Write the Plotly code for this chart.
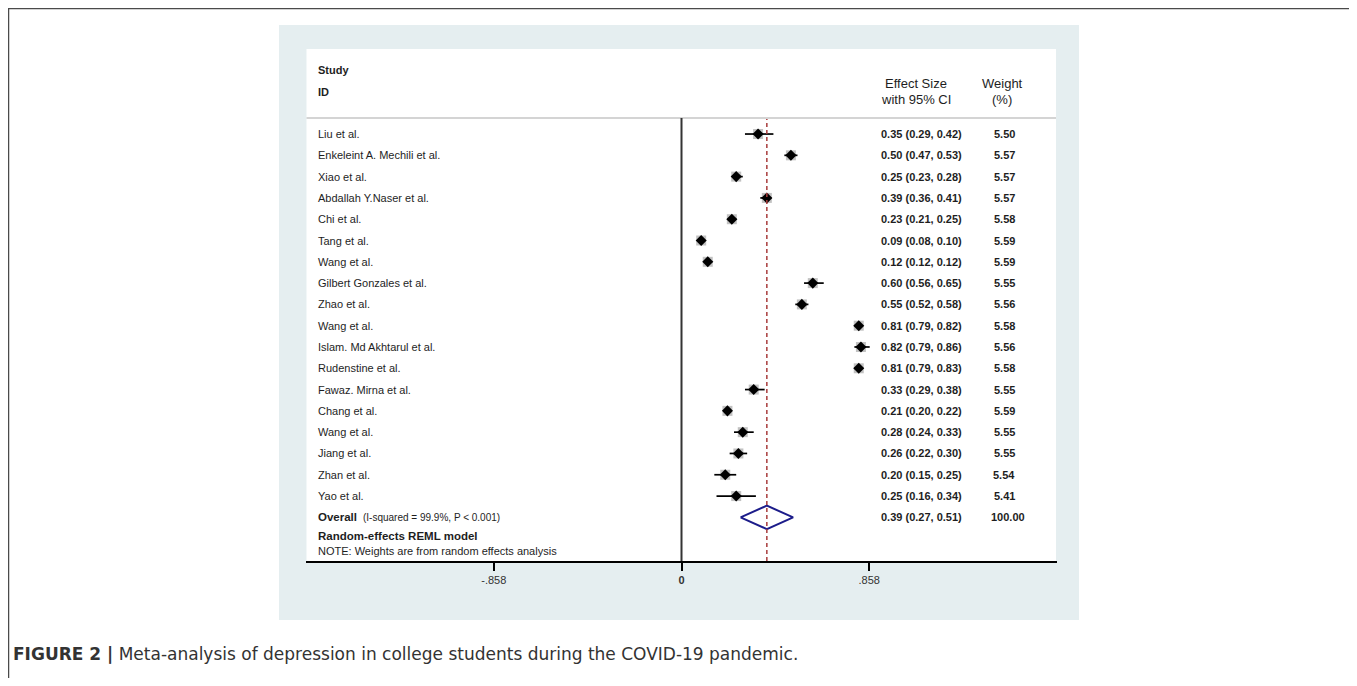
import plotly.graph_objects as go

# ---------------- data ----------------
studies = [
    "Liu et al.", "Enkeleint A. Mechili et al.", "Xiao et al.", "Abdallah Y.Naser et al.",
    "Chi et al.", "Tang et al.", "Wang et al.", "Gilbert Gonzales et al.", "Zhao et al.",
    "Wang et al.", "Islam. Md Akhtarul et al.", "Rudenstine et al.", "Fawaz. Mirna et al.",
    "Chang et al.", "Wang et al.", "Jiang et al.", "Zhan et al.", "Yao et al.",
]
est = [0.35, 0.50, 0.25, 0.39, 0.23, 0.09, 0.12, 0.60, 0.55, 0.81, 0.82, 0.81, 0.33, 0.21, 0.28, 0.26, 0.20, 0.25]
lo = [0.29, 0.47, 0.23, 0.36, 0.21, 0.08, 0.12, 0.56, 0.52, 0.79, 0.79, 0.79, 0.29, 0.20, 0.24, 0.22, 0.15, 0.16]
hi = [0.42, 0.53, 0.28, 0.41, 0.25, 0.10, 0.12, 0.65, 0.58, 0.82, 0.86, 0.83, 0.38, 0.22, 0.33, 0.30, 0.25, 0.34]
weight = [5.50, 5.57, 5.57, 5.57, 5.58, 5.59, 5.59, 5.55, 5.56, 5.58, 5.56, 5.58, 5.55, 5.59, 5.55, 5.55, 5.54, 5.41]
overall_est, overall_lo, overall_hi, overall_w = 0.39, 0.27, 0.51, 100.00
het_text = "(I-squared = 99.9%, P &lt; 0.001)"
tick_vals = [-0.858, 0, 0.858]
tick_text = ["-.858", "<b>0</b>", ".858"]
caption = "<b>FIGURE 2 |</b> Meta-analysis of depression in college students during the COVID-19 pandemic."

# ---------------- helpers ----------------
OFF = 8  # page body margin
W, H = 1357 - OFF, 686 - 2 * OFF
def px(x):
    return (x - OFF) / W
def py(y):
    return 1 - (y - OFF) / H

FONT = "Liberation Sans, Arial, sans-serif"
TXT = "#1e1e1e"

fig = go.Figure()
n = len(studies)
rows = list(range(n))

# weight boxes
fig.add_trace(go.Scatter(x=est, y=rows, mode="markers",
                         marker=dict(symbol="square", size=10, color="#c2c2c2", line=dict(width=0)),
                         hoverinfo="skip", showlegend=False))
# CI lines
xs, ys = [], []
for i in range(n):
    xs += [lo[i], hi[i], None]
    ys += [i, i, None]
fig.add_trace(go.Scatter(x=xs, y=ys, mode="lines", line=dict(color="black", width=1.7),
                         hoverinfo="skip", showlegend=False))
# point estimates
fig.add_trace(go.Scatter(x=est, y=rows, mode="markers",
                         marker=dict(symbol="diamond", size=8.5, color="black", line=dict(width=0)),
                         hoverinfo="skip", showlegend=False))
# overall diamond
ov = n
dh = 0.55
fig.add_trace(go.Scatter(x=[overall_lo, overall_est, overall_hi, overall_est, overall_lo],
                         y=[ov, ov - dh, ov, ov + dh, ov], mode="lines",
                         line=dict(color="#1c1c8a", width=2), hoverinfo="skip", showlegend=False))

shapes = [
    # outer frame
    dict(type="rect", xref="paper", yref="paper", x0=px(8.5), x1=px(1355.5), y0=py(8.5), y1=py(720),
         line=dict(color="#4a4a4a", width=1.5), fillcolor="rgba(0,0,0,0)", layer="above"),
    # blue panel
    dict(type="rect", xref="paper", yref="paper", x0=px(279), x1=px(1079), y0=py(25), y1=py(620),
         line=dict(width=0), fillcolor="#e5eef0", layer="below"),
    # white panel
    dict(type="rect", xref="paper", yref="paper", x0=px(306.5), x1=px(1056), y0=py(49), y1=py(561),
         line=dict(width=0), fillcolor="white", layer="below"),
    # header separator
    dict(type="line", xref="paper", yref="paper", x0=px(306.5), x1=px(1056), y0=py(118), y1=py(118),
         line=dict(color="#c6c6c6", width=1.5)),
    # null line
    dict(type="line", xref="x", yref="paper", x0=0, x1=0, y0=py(561), y1=py(118),
         line=dict(color="#333333", width=2)),
    # overall effect line
    dict(type="line", xref="x", yref="paper", x0=overall_est, x1=overall_est, y0=py(561), y1=py(119),
         line=dict(color="#a83c3c", width=1.5, dash="4px,3px")),
]

ann = []
def add(text, x, y, size=11, anchor="left", bold=False, yref="paper", color=TXT):
    ann.append(dict(text=("<b>%s</b>" % text) if bold else text, x=x, y=y, xref="paper", yref=yref,
                    xanchor=anchor, yanchor="middle", showarrow=False,
                    font=dict(family=FONT, size=size, color=color)))

# headers
add("Study", px(316), py(69.5), size=11, bold=True)
add("ID", px(316), py(92), size=11, bold=True)
add("Effect Size", px(916), py(83), size=13, anchor="center")
add("with 95% CI", px(916), py(100), size=13, anchor="center")
add("Weight", px(1002), py(83), size=13, anchor="center")
add("(%)", px(1002), py(100), size=13, anchor="center")

for i in range(n):
    add(studies[i], px(316), i, size=11, yref="y")
    add("%.2f (%.2f, %.2f)" % (est[i], lo[i], hi[i]), px(879), i, size=11, bold=True, yref="y")
    add("%.2f" % weight[i], px(1004), i, size=11, bold=True, anchor="center", yref="y")

add("Overall", px(316), ov, size=11.5, bold=True, yref="y")
add(het_text, px(361), ov, size=10, yref="y")
add("%.2f (%.2f, %.2f)" % (overall_est, overall_lo, overall_hi), px(879), ov, size=11, bold=True, yref="y")
add("%.2f" % overall_w, px(1008), ov, size=11, bold=True, anchor="center", yref="y")
add("Random-effects REML model", px(316), py(536), size=11.5, bold=True)
add("NOTE: Weights are from random effects analysis", px(316), py(551), size=11)

# caption
ann.append(dict(text=caption, x=px(11), y=py(654), xref="paper", yref="paper", xanchor="left",
                yanchor="middle", showarrow=False,
                font=dict(family="DejaVu Sans, Liberation Sans, sans-serif", size=17, color="#333333")))

fig.update_layout(
    width=W, height=H, autosize=False,
    margin=dict(l=0, r=0, t=0, b=0),
    paper_bgcolor="white", plot_bgcolor="rgba(0,0,0,0)",
    shapes=shapes, annotations=ann, showlegend=False,
    xaxis=dict(domain=[px(306), px(1057)], range=[-1.716, 1.716], showgrid=False, zeroline=False,
               showline=True, linecolor="black", linewidth=2, ticks="outside", ticklen=8,
               tickwidth=2, tickcolor="black", tickvals=tick_vals, ticktext=tick_text,
               tickfont=dict(family=FONT, size=11, color="#333333"), fixedrange=True),
    yaxis=dict(domain=[py(561), py(48)], range=[20.05, -4.04], visible=False, fixedrange=True),
)

fig.write_html("out.html")
